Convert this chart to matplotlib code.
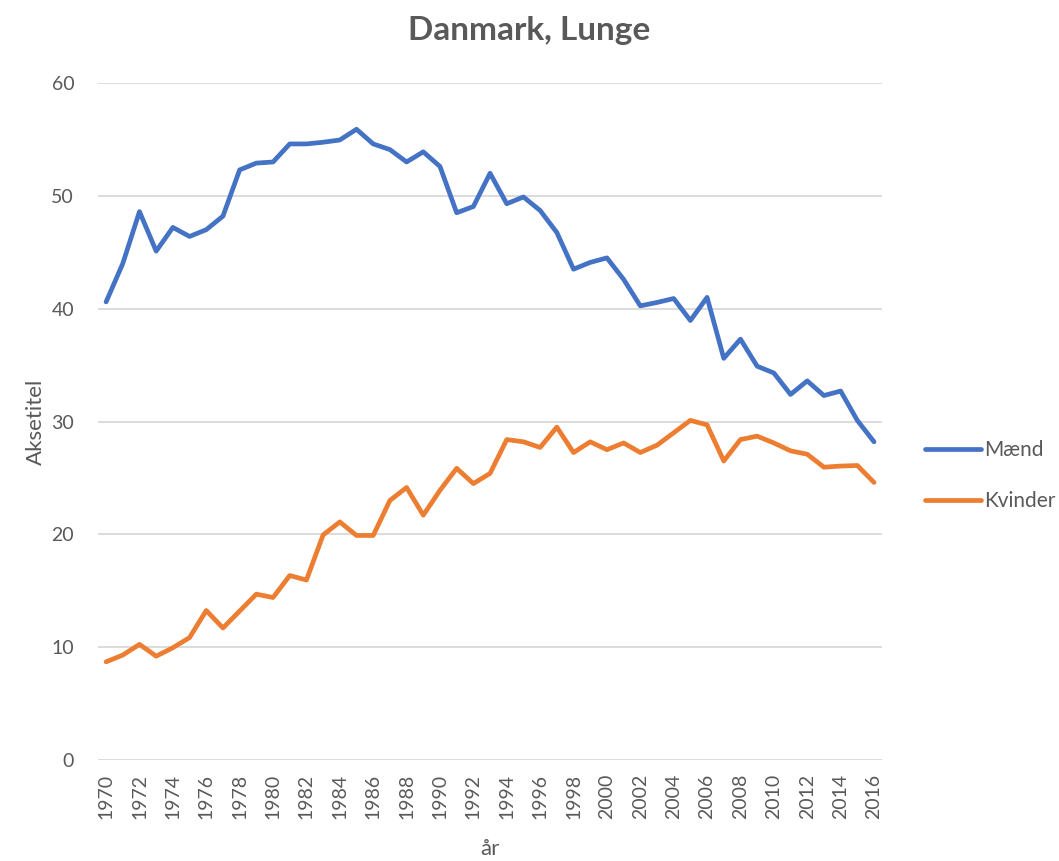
import matplotlib
matplotlib.use("Agg")
from matplotlib import pyplot as plt

# data
years = list(range(1970, 2017))
maend = [40.6, 44.0, 48.6, 45.1, 47.2, 46.4, 47.0, 48.2, 52.3, 52.9,
         53.0, 54.6, 54.6, 54.75, 54.95, 55.9, 54.6, 54.1, 53.0, 53.9,
         52.6, 48.5, 49.05, 52.0, 49.3, 49.9, 48.7, 46.75, 43.5, 44.1,
         44.5, 42.6, 40.25, 40.55, 40.9, 38.95, 41.0, 35.6, 37.3, 34.9,
         34.3, 32.4, 33.6, 32.3, 32.7, 30.1, 28.2]
kvinder = [8.7, 9.3, 10.25, 9.2, 9.95, 10.85, 13.25, 11.7, 13.2, 14.7,
           14.4, 16.35, 15.95, 19.95, 21.1, 19.9, 19.9, 23.0, 24.15, 21.7,
           23.9, 25.85, 24.5, 25.4, 28.4, 28.2, 27.7, 29.5, 27.25, 28.2,
           27.5, 28.1, 27.25, 27.9, 29.0, 30.1, 29.7, 26.5, 28.4, 28.7,
           28.1, 27.4, 27.1, 25.95, 26.05, 26.1, 24.6]
y_ticks = [0, 10, 20, 30, 40, 50, 60]

plt.rcParams['font.family'] = ['Lato', 'DejaVu Sans']
grey = '#595959'

fig = plt.figure(figsize=(10.59, 8.61), dpi=100)
ax = fig.add_axes([0.0923, 0.1173, 0.7409, 0.7863])

x = list(range(len(years)))
ax.plot(x, maend, color='#4472C4', lw=3.4, solid_capstyle='round',
        solid_joinstyle='round', label='Mænd')
ax.plot(x, kvinder, color='#ED7D31', lw=3.4, solid_capstyle='round',
        solid_joinstyle='round', label='Kvinder')

ax.set_xlim(-0.5, len(years) - 0.5)
ax.set_ylim(0, 60)
ax.set_yticks(y_ticks)
ax.set_xticks(x[::2])
ax.set_xticklabels([str(y) for y in years[::2]], rotation=90)
ax.tick_params(axis='both', length=0, colors=grey, labelsize=14)
ax.tick_params(axis='y', pad=17)
ax.tick_params(axis='x', pad=10)
ax.grid(axis='y', color='#D9D9D9', lw=1.3)
ax.set_axisbelow(True)
for s in ax.spines.values():
    s.set_visible(False)

fig.text(0.5, 0.965, 'Danmark, Lunge', fontsize=24, fontweight='bold',
         color=grey, ha='center', va='center')
ax.set_ylabel('Aksetitel', fontsize=16, color=grey, labelpad=4)
ax.set_xlabel('år', fontsize=16, color=grey, labelpad=14)

leg = ax.legend(loc='center left', bbox_to_anchor=(1.03, 0.42), frameon=False,
                fontsize=15, handlelength=2.7, handletextpad=0.15, labelspacing=1.5,
                labelcolor=grey)

fig.savefig('out.png', dpi=100)
